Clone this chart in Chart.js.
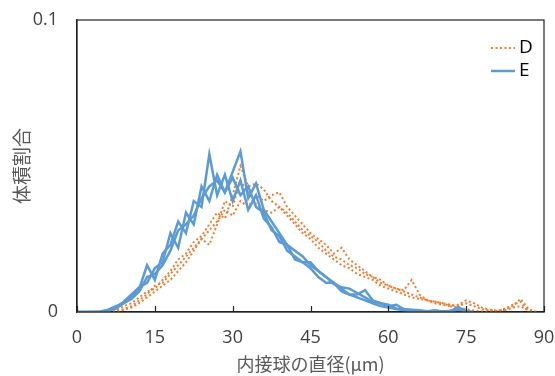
<!DOCTYPE html>
<html>
<head>
<meta charset="utf-8">
<script src="https://cdn.jsdelivr.net/npm/chart.js@4.4.0/dist/chart.umd.min.js"></script>
<style>
html,body{margin:0;padding:0;background:#fff;}
#wrap{width:555px;height:376px;position:relative;}
</style>
</head>
<body>
<div id="wrap"><canvas id="c" width="555" height="376"></canvas></div>
<script>
// Inscribed-sphere diameter (µm) categories
const sizes = [0,1.5,3,4.5,6,7.5,9,10.5,12,13.5,15,16.5,18,19.5,21,22.5,24,25.5,27,28.5,30,31.5,33,34.5,36,37.5,39,40.5,42,43.5,45,46.5,48,49.5,51,52.5,54,55.5,57,58.5,60,61.5,63,64.5,66,67.5,69,70.5,72,73.5,75,76.5,78,79.5,81,82.5,84,85.5,87,88.5];

// Series E (three runs)
const E1 = [0,0,0,0.0002,0.0008,0.002,0.003,0.005,0.008,0.016,0.011,0.020,0.023,0.031,0.027,0.038,0.036,0.054,0.040,0.047,0.038,0.045,0.035,0.040,0.032,0.029,0.024,0.023,0.018,0.017,0.015,0.012,0.010,0.010,0.007,0.006,0.005,0.004,0.003,0.002,0.0015,0.001,0.0006,0.0004,0.0003,0.0002,0.0001,0,0];
const E2 = [0,0,0,0.0001,0.0006,0.0015,0.0035,0.006,0.0085,0.010,0.015,0.017,0.027,0.022,0.034,0.030,0.043,0.038,0.047,0.041,0.048,0.055,0.039,0.044,0.035,0.031,0.027,0.023,0.021,0.019,0.016,0.014,0.012,0.010,0.008,0.006,0.006,0.0075,0.004,0.003,0.0025,0.0012,0.0008,0.0005,0.0003,0.0002,0.0001,0.0002,0.0004,0.0017,0.0003,0];
const E3 = [0,0,0,0,0.0005,0.0012,0.003,0.0045,0.007,0.012,0.013,0.016,0.021,0.028,0.030,0.033,0.039,0.043,0.045,0.041,0.046,0.040,0.043,0.036,0.034,0.028,0.026,0.021,0.019,0.017,0.017,0.014,0.012,0.0095,0.0085,0.008,0.0065,0.005,0.0035,0.003,0.002,0.0025,0.001,0.0008,0.0006,0.0003,0.0006,0.0002,0.0002,0.0008,0.0002,0];

// Series D (three runs)
const D1 = [0,0,0,0,0,0.0005,0.002,0.003,0.005,0.007,0.008,0.011,0.014,0.018,0.020,0.024,0.026,0.030,0.034,0.032,0.040,0.050,0.043,0.044,0.042,0.038,0.036,0.034,0.031,0.028,0.026,0.024,0.021,0.019,0.018,0.016,0.015,0.013,0.012,0.011,0.009,0.008,0.007,0.006,0.005,0.004,0.0035,0.003,0.002,0.0015,0.001,0.0005,0.0002,0.0001,0.0003,0.0012,0.0025,0.0035,0];
const D2 = [0,0,0,0,0,0,0.001,0.002,0.004,0.006,0.009,0.010,0.013,0.016,0.019,0.022,0.025,0.028,0.031,0.035,0.033,0.038,0.036,0.040,0.038,0.040,0.041,0.036,0.033,0.030,0.027,0.025,0.023,0.020,0.022,0.018,0.016,0.014,0.012,0.010,0.009,0.008,0.0075,0.011,0.006,0.004,0.003,0.0025,0.002,0.0025,0.004,0.003,0.0015,0.0008,0.0005,0.0008,0.002,0.0045,0.001,0];
const D3 = [0,0,0,0,0,0,0.0008,0.0015,0.003,0.005,0.007,0.009,0.011,0.014,0.017,0.021,0.025,0.023,0.030,0.038,0.036,0.045,0.041,0.037,0.035,0.034,0.036,0.033,0.030,0.027,0.025,0.022,0.020,0.018,0.016,0.015,0.013,0.012,0.011,0.009,0.008,0.007,0.006,0.005,0.0045,0.004,0.0035,0.003,0.0025,0.002,0.003,0.002,0.001,0.0005,0.0004,0.0006,0.0015,0.002,0.0005,0];

const xTicks = [0,15,30,45,60,75,90];
const yTicks = [0,0.1];
const legendNames = ['D','E'];

const BLUE = '#5B9BD5';
const ORANGE = '#ED7D31';
const NUM_FONT = '"Open Sans", "Noto Sans", sans-serif';
const JP_FONT = '"Noto Sans CJK JP", "Noto Sans", sans-serif';

function pts(arr){ return arr.map((v,i)=>({x:sizes[i], y:v})); }

function eSet(arr){
  return {label:'E', data:pts(arr), borderColor:BLUE, borderWidth:2.5, pointRadius:0, tension:0, fill:false, borderJoinStyle:'miter'};
}
function dSet(arr){
  return {label:'D', data:pts(arr), borderColor:ORANGE, borderWidth:2, borderDash:[2,2.5], pointRadius:0, tension:0, fill:false};
}

const framePlugin = {
  id:'frame',
  afterDraw(chart){
    const {ctx, chartArea:a, scales:{x}} = chart;
    ctx.save();
    ctx.strokeStyle = '#222';
    ctx.lineWidth = 1.2;
    ctx.strokeRect(a.left, a.top, a.right-a.left, a.bottom-a.top);
    // inward tick marks on x-axis
    xTicks.forEach(t=>{
      const px = Math.round(x.getPixelForValue(t))+0.5;
      ctx.beginPath();
      ctx.moveTo(px, a.bottom);
      ctx.lineTo(px, a.bottom-6);
      ctx.stroke();
    });
    // legend (inside top-right)
    const items = [
      {name:legendNames[0], color:ORANGE, dash:[2,2.5], w:2, y:48},
      {name:legendNames[1], color:BLUE, dash:[], w:2.5, y:71}
    ];
    items.forEach(it=>{
      ctx.beginPath();
      ctx.setLineDash(it.dash);
      ctx.strokeStyle = it.color;
      ctx.lineWidth = it.w;
      ctx.moveTo(491, it.y);
      ctx.lineTo(515, it.y);
      ctx.stroke();
      ctx.setLineDash([]);
      ctx.fillStyle = '#000';
      ctx.font = '19px ' + NUM_FONT;
      ctx.textBaseline = 'middle';
      ctx.textAlign = 'left';
      ctx.fillText(it.name, 519, it.y);
    });
    ctx.restore();
  }
};

new Chart(document.getElementById('c'), {
  type:'line',
  data:{
    datasets:[eSet(E1), eSet(E2), eSet(E3), dSet(D1), dSet(D2), dSet(D3)]
  },
  options:{
    responsive:false,
    animation:false,
    layout:{padding:{top:20, right:11, left:0, bottom:0}},
    plugins:{legend:{display:false}, tooltip:{enabled:false}},
    scales:{
      x:{
        type:'linear', min:0, max:90,
        afterBuildTicks(s){ s.ticks = xTicks.map(v=>({value:v})); },
        afterFit(s){ s.height = 64; s.paddingLeft = 0; s.paddingRight = 0; },
        grid:{display:false, drawTicks:false},
        border:{display:true, color:'#222', width:1.2},
        ticks:{font:{family:NUM_FONT, size:18}, color:'#404040', padding:15, maxRotation:0},
        title:{display:true, text:'内接球の直径(μm)', font:{family:JP_FONT, size:18}, color:'#595959', padding:{top:0,bottom:1}}
      },
      y:{
        type:'linear', min:0, max:0.1,
        afterBuildTicks(s){ s.ticks = yTicks.map(v=>({value:v})); },
        afterFit(s){ s.width = 77; s.paddingTop = 0; s.paddingBottom = 0; },
        grid:{display:false, drawTicks:false},
        border:{display:true, color:'#222', width:1.2},
        ticks:{font:{family:NUM_FONT, size:18}, color:'#404040', padding:19},
        title:{display:true, text:'体積割合', font:{family:JP_FONT, size:19}, color:'#595959', padding:{top:10,bottom:0}}
      }
    }
  },
  plugins:[framePlugin]
});
</script>
</body>
</html>
